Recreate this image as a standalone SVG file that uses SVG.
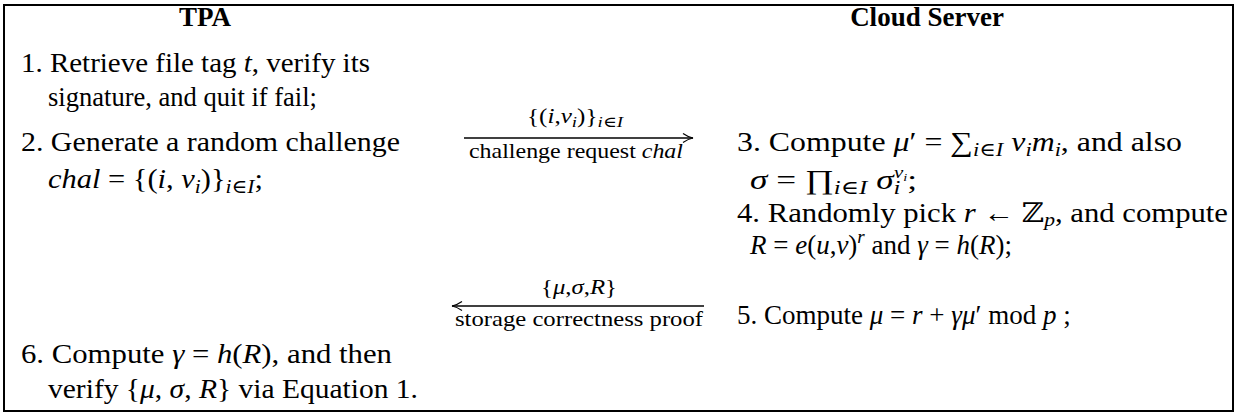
<svg xmlns="http://www.w3.org/2000/svg" width="1235" height="414" viewBox="0 0 1235 414">
<style>
text{font-family:"Liberation Serif","DejaVu Serif",serif;fill:#000}
.t{font-size:27px}
.h{font-size:27px;font-weight:bold;text-anchor:middle}
.s{font-size:20px}
.lab{font-size:22px}
.it{font-style:italic}
.sub{font-size:19px}
.ln{stroke:#000;stroke-width:1.3;fill:none}
</style>
<defs>
<marker id="ah" viewBox="0 0 12 12" refX="11" refY="6" markerWidth="12" markerHeight="12" markerUnits="userSpaceOnUse" orient="auto-start-reverse">
<path d="M1,1.5 Q6,5 11,6 Q6,7 1,10.5" fill="none" stroke="#000" stroke-width="1.2"/>
</marker>
</defs>
<rect x="4" y="5" width="1229" height="406" fill="#fff" stroke="#000" stroke-width="2"/>

<g id="tpa">
<text class="h" x="205" y="26">TPA</text>
<text class="t" x="21" y="72" textLength="349" lengthAdjust="spacingAndGlyphs">1. Retrieve file tag <tspan class="it">t</tspan>, verify its</text>
<text class="t" x="48" y="106" textLength="269" lengthAdjust="spacingAndGlyphs">signature, and quit if fail;</text>
<text class="t" x="21" y="151" textLength="379" lengthAdjust="spacingAndGlyphs">2. Generate a random challenge</text>
<text class="t" x="48" y="188" textLength="215" lengthAdjust="spacingAndGlyphs"><tspan class="it">chal</tspan> = {(<tspan class="it">i</tspan>, <tspan class="it">ν</tspan><tspan class="sub it" dy="5">i</tspan><tspan dy="-5">)}</tspan><tspan class="sub" dy="5"><tspan class="it">i</tspan>∈<tspan class="it">I</tspan></tspan><tspan dy="-5">;</tspan></text>
<text class="t" x="21" y="363" textLength="371" lengthAdjust="spacingAndGlyphs">6. Compute <tspan class="it">γ</tspan> = <tspan class="it">h</tspan>(<tspan class="it">R</tspan>), and then</text>
<text class="t" x="48" y="398" textLength="370" lengthAdjust="spacingAndGlyphs">verify {<tspan class="it">μ</tspan>, <tspan class="it">σ</tspan>, <tspan class="it">R</tspan>} via Equation 1.</text>
</g>

<g id="server">
<text class="h" x="927" y="26">Cloud Server</text>
<text class="t" x="737" y="151" textLength="445" lengthAdjust="spacingAndGlyphs">3. Compute <tspan class="it">μ</tspan>′ = ∑<tspan class="sub" dy="5"><tspan class="it">i</tspan>∈<tspan class="it">I</tspan></tspan><tspan dy="-5"> </tspan><tspan class="it">ν</tspan><tspan class="sub it" dy="5">i</tspan><tspan class="it" dy="-5">m</tspan><tspan class="sub it" dy="5">i</tspan><tspan dy="-5">, and also</tspan></text>
<text class="t" x="750" y="189" textLength="167" lengthAdjust="spacingAndGlyphs"><tspan class="it">σ</tspan> = ∏<tspan class="sub" dy="5"><tspan class="it">i</tspan>∈<tspan class="it">I</tspan></tspan><tspan dy="-5"> </tspan><tspan class="it">σ</tspan><tspan class="sub it" dy="5">i</tspan><tspan class="it" dx="-5" dy="-16" font-size="16">ν</tspan><tspan class="it" dy="3" font-size="11">i</tspan><tspan dy="8">;</tspan></text>
<text class="t" x="737" y="222" textLength="491" lengthAdjust="spacingAndGlyphs">4. Randomly pick <tspan class="it">r</tspan> ← ℤ<tspan class="sub it" dy="4">p</tspan><tspan dy="-4">, and compute</tspan></text>
<text class="t" x="750" y="254" textLength="262" lengthAdjust="spacingAndGlyphs"><tspan class="it">R</tspan> = <tspan class="it">e</tspan>(<tspan class="it">u</tspan>,<tspan class="it">v</tspan>)<tspan class="sub it" dy="-11">r</tspan><tspan dy="11"> and </tspan><tspan class="it">γ</tspan> = <tspan class="it">h</tspan>(<tspan class="it">R</tspan>);</text>
<text class="t" x="737" y="324">5. Compute <tspan class="it">μ</tspan> = <tspan class="it">r</tspan> + <tspan class="it">γμ</tspan>′ mod <tspan class="it">p</tspan> ;</text>
</g>

<g id="connectors">
<line class="ln" x1="464" y1="138" x2="693" y2="138" marker-end="url(#ah)"/>
<text class="s" x="527" y="123" textLength="96" lengthAdjust="spacingAndGlyphs">{(<tspan class="it">i</tspan>,<tspan class="it">ν</tspan><tspan class="it" font-size="15" dy="4">i</tspan><tspan dy="-4">)}</tspan><tspan font-size="15" dy="4"><tspan class="it">i</tspan>∈<tspan class="it">I</tspan></tspan></text>
<text class="lab" x="469" y="158" textLength="214" lengthAdjust="spacingAndGlyphs">challenge request  <tspan class="it">chal</tspan></text>
<line class="ln" x1="704" y1="306" x2="452" y2="306" marker-end="url(#ah)"/>
<text class="s" x="541" y="294" textLength="76" lengthAdjust="spacingAndGlyphs">{<tspan class="it">μ</tspan>,<tspan class="it">σ</tspan>,<tspan class="it">R</tspan>}</text>
<text class="lab" x="455" y="326" textLength="248" lengthAdjust="spacingAndGlyphs">storage correctness proof</text>
</g>
</svg>
